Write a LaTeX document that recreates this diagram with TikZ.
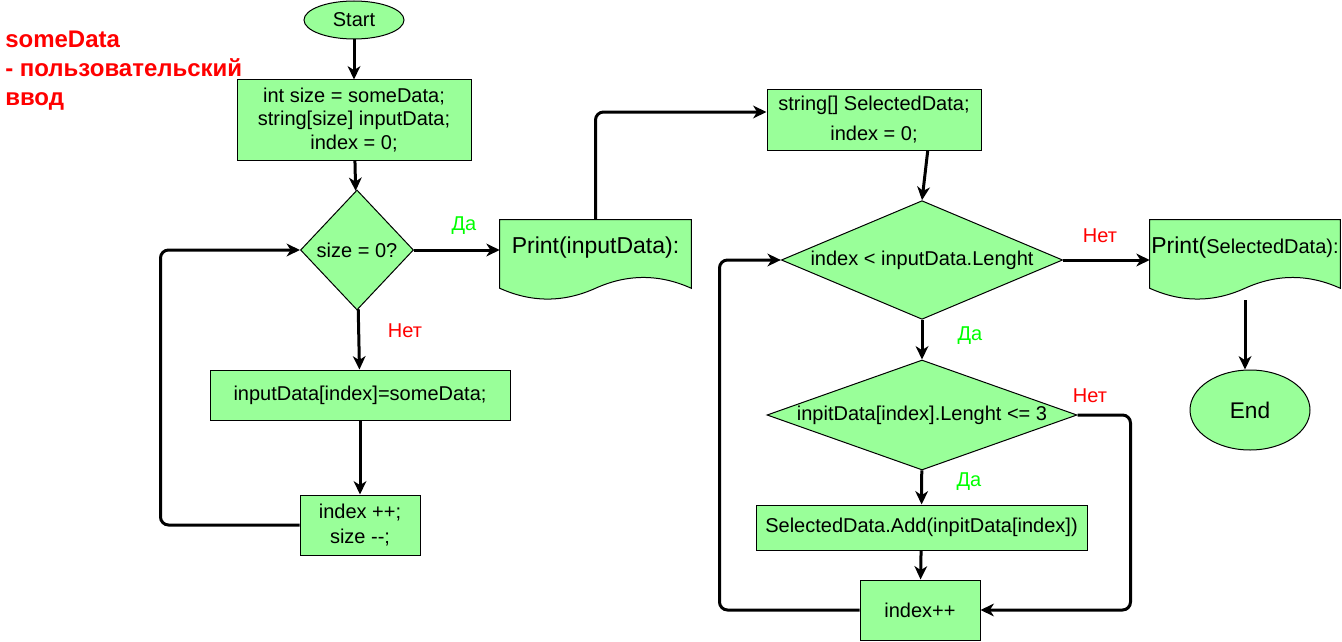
\documentclass[tikz,border=0pt]{standalone}
\usepackage{fontspec}
\setmainfont{Liberation Sans}
\usetikzlibrary{shapes.geometric,arrows.meta,calc}
\definecolor{fcgreen}{HTML}{99FF99}
\definecolor{yesgreen}{HTML}{00FF00}
\newcommand{\fsz}[2]{\fontsize{#1}{#2}\selectfont}
%Dokument-Form mit Wellenkante
\newcommand{\docshape}[1]{%
	\filldraw[fill=fcgreen, line width=0.75pt] (#1.north west) -- (#1.north east)
	-- ($(#1.south east)+(0,-12)$)
	.. controls ($(#1.south west)!0.8333!(#1.south east)+(0,-26.4)$) and ($(#1.south west)!0.6667!(#1.south east)+(0,-26.4)$) .. ($(#1.south)+(0,-12)$)
	.. controls ($(#1.south west)!0.3333!(#1.south east)+(0,2.4)$) and ($(#1.south west)!0.1667!(#1.south east)+(0,2.4)$) .. ($(#1.south west)+(0,-12)$)
	-- cycle;}
\tikzset{
	block/.style={draw, fill=fcgreen, line width=0.75pt, inner sep=0pt, align=center, font=\fsz{15pt}{18pt}},
	decision/.style={block, diamond},
	terminal/.style={block, ellipse},
	docnode/.style={inner sep=0pt, minimum height=60pt},
	flow/.style={line width=2.25pt, -{Stealth[length=10pt,width=9.5pt,inset=3pt]}, rounded corners=6pt},
	yeslabel/.style={text=yesgreen, font=\fsz{15pt}{18pt}},
	nolabel/.style={text=red, font=\fsz{15pt}{18pt}}
}
\begin{document}
\begin{tikzpicture}[x=0.75pt, y=-0.75pt]
	\useasboundingbox (0,0) rectangle (1342,642);
	
	\node[anchor=north west, inner sep=0pt, align=left, text=red, font=\bfseries\fsz{18pt}{21.75pt}] (note) at (5,31) {someData\\- пользовательский\\ввод};%Hinweis
	
	%linke Spalte
	\node[terminal, minimum width=75pt, minimum height=28.5pt] (start) at (354,20) {Start};
	\node[block, minimum width=175.5pt, minimum height=60pt, font=\fsz{15pt}{17.6pt}] (b1) at (354,120) {int size = someData;\\string[size] inputData;\\index = 0;};
	\node[decision, minimum width=84.75pt, minimum height=90pt, aspect=0.94] (d1) at (357,250) {size = 0?};
	\node[block, minimum width=225pt, minimum height=37.5pt] (b2) at (360,395) {inputData[index]=someData;};
	\node[block, minimum width=90pt, minimum height=45pt, font=\fsz{15pt}{18.75pt}] (b3) at (360,525) {index ++;\\size -{}-;};
	
	\node[docnode, minimum width=143.25pt] (pr1) at (595.5,260) {};
	\docshape{pr1}
	\node[font=\fsz{17.25pt}{20pt}] (pr1t) at ([yshift=9pt]pr1.center) {Print(inputData):};
	
	%rechte Spalte
	\node[block, minimum width=160.5pt, minimum height=45pt, font=\fsz{15pt}{22.5pt}] (b4) at (874,120) {string[] SelectedData;\\index = 0;};
	\node[decision, minimum width=211pt, minimum height=89pt, aspect=2.36] (d2) at (922,260) {index < inputData.Lenght};
	\node[decision, minimum width=232.5pt, minimum height=82.5pt, aspect=2.82] (d3) at (922,415) {inpitData[index].Lenght <= 3};
	\node[block, minimum width=248.25pt, minimum height=33.75pt] (b5) at (921.5,527.5) {SelectedData.Add(inpitData[index])};
	\node[block, minimum width=90pt, minimum height=45pt] (b6) at (920,610) {index++};
	
	\node[docnode, minimum width=142.5pt] (pr2) at (1245,260) {};
	\docshape{pr2}
	\node[inner sep=0pt] (pr2t) at ([yshift=9pt]pr2.center) {\fsz{17.25pt}{20pt}Print(\fsz{15pt}{18pt}SelectedData):};
	\node[terminal, minimum width=90pt, minimum height=60pt, font=\fsz{17pt}{20pt}] (stop) at (1250,410) {End};
	
	%Verbindungen
	\draw[flow] (start) -- (b1);
	\draw[flow] (b1) -- (d1);
	\draw[flow] (d1) -- (b2) node at (405,331) [nolabel] {Нет};
	\draw[flow] (b2) -- (b3);
	\draw[flow] (b3.west) -- ++(-139,0) |- (d1.west);%Schleife 1
	\draw[flow] (d1.east) -- (d1.east -| pr1.west) node at (464,226) [yeslabel] {Да};
	\draw[flow] (pr1.north) |- ([yshift=6pt]b4.west);
	\draw[flow] ($(b4.south west)!0.75!(b4.south east)$) -- (d2.north);
	\draw[flow] (d2.east) -- (pr2.west) node at (1100,236) [nolabel] {Нет};
	\draw[flow] (pr2.south) -- (pr2.south |- stop.north);
	\draw[flow] (d2) -- (d3) node at (970,336) [yeslabel] {Да};
	\draw[flow] (d3) -- (b5) node at (969,482) [yeslabel] {Да};
	\draw[flow] (b5) -- (b6);
	\draw[flow] (d3.east) -- ++(53,0) |- (b6.east) node at (1090,396) [nolabel] {Нет};
	\draw[flow] (b6.west) -- ++(-140,0) |- (d2.west);%Schleife 2
\end{tikzpicture}
\end{document}
